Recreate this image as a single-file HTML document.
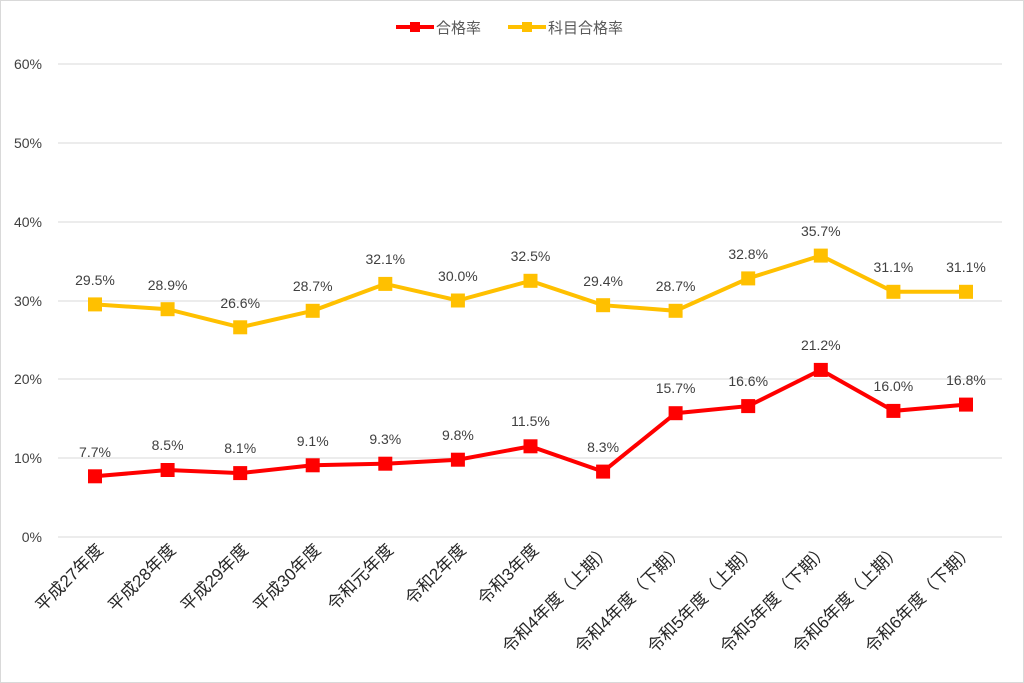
<!DOCTYPE html>
<html><head><meta charset="utf-8"><style>
body{margin:0;background:#fff}
svg{display:block;font-family:"Liberation Sans","Noto Sans CJK JP",sans-serif}
</style></head><body>
<svg width="1024" height="683" viewBox="0 0 1024 683">
<rect x="0.5" y="0.5" width="1023" height="682" fill="#fff" stroke="#d9d9d9"/>
<g stroke="#d9d9d9" stroke-width="1">
<line x1="58" x2="1002" y1="64" y2="64"/><line x1="58" x2="1002" y1="143" y2="143"/>
<line x1="58" x2="1002" y1="222" y2="222"/><line x1="58" x2="1002" y1="301" y2="301"/>
<line x1="58" x2="1002" y1="379" y2="379"/><line x1="58" x2="1002" y1="458" y2="458"/>
<line x1="58" x2="1002" y1="537" y2="537"/>
</g>
<g font-size="14" fill="#404040" text-anchor="end">
<text x="42" y="69">60%</text><text x="42" y="148">50%</text><text x="42" y="227">40%</text>
<text x="42" y="306">30%</text><text x="42" y="384">20%</text><text x="42" y="463">10%</text><text x="42" y="542">0%</text>
</g>
<g font-size="17" fill="#262626" text-anchor="end">
<text transform="translate(104,551) rotate(-45)">平成27年度</text>
<text transform="translate(176.6,551) rotate(-45)">平成28年度</text>
<text transform="translate(249.2,551) rotate(-45)">平成29年度</text>
<text transform="translate(321.7,551) rotate(-45)">平成30年度</text>
<text transform="translate(394.3,551) rotate(-45)">令和元年度</text>
<text transform="translate(466.9,551) rotate(-45)">令和2年度</text>
<text transform="translate(539.5,551) rotate(-45)">令和3年度</text>
<text transform="translate(612.1,551) rotate(-45)">令和4年度（上期）</text>
<text transform="translate(684.6,551) rotate(-45)">令和4年度（下期）</text>
<text transform="translate(757.2,551) rotate(-45)">令和5年度（上期）</text>
<text transform="translate(829.8,551) rotate(-45)">令和5年度（下期）</text>
<text transform="translate(902.4,551) rotate(-45)">令和6年度（上期）</text>
<text transform="translate(975,551) rotate(-45)">令和6年度（下期）</text>
</g>
<polyline fill="none" stroke="#ffc000" stroke-width="4" points="95,304.4 167.6,309.2 240.2,327.3 312.7,310.8 385.3,283.9 457.9,300.5 530.5,280.8 603.1,305.2 675.6,310.8 748.2,278.4 820.8,255.6 893.4,291.8 966,291.8"/>
<g fill="#ffc000">
<rect x="88" y="297.4" width="14" height="14"/><rect x="160.6" y="302.2" width="14" height="14"/><rect x="233.2" y="320.3" width="14" height="14"/><rect x="305.7" y="303.8" width="14" height="14"/><rect x="378.3" y="276.9" width="14" height="14"/><rect x="450.9" y="293.5" width="14" height="14"/><rect x="523.5" y="273.8" width="14" height="14"/><rect x="596.1" y="298.2" width="14" height="14"/><rect x="668.6" y="303.8" width="14" height="14"/><rect x="741.2" y="271.4" width="14" height="14"/><rect x="813.8" y="248.6" width="14" height="14"/><rect x="886.4" y="284.8" width="14" height="14"/><rect x="959" y="284.8" width="14" height="14"/>
</g>
<polyline fill="none" stroke="#ff0000" stroke-width="4" points="95,476.3 167.6,470 240.2,473.1 312.7,465.3 385.3,463.7 457.9,459.7 530.5,446.3 603.1,471.6 675.6,413.2 748.2,406.1 820.8,369.9 893.4,410.9 966,404.6"/>
<g fill="#ff0000">
<rect x="88" y="469.3" width="14" height="14"/><rect x="160.6" y="463" width="14" height="14"/><rect x="233.2" y="466.1" width="14" height="14"/><rect x="305.7" y="458.3" width="14" height="14"/><rect x="378.3" y="456.7" width="14" height="14"/><rect x="450.9" y="452.7" width="14" height="14"/><rect x="523.5" y="439.3" width="14" height="14"/><rect x="596.1" y="464.6" width="14" height="14"/><rect x="668.6" y="406.2" width="14" height="14"/><rect x="741.2" y="399.1" width="14" height="14"/><rect x="813.8" y="362.9" width="14" height="14"/><rect x="886.4" y="403.9" width="14" height="14"/><rect x="959" y="397.6" width="14" height="14"/>
</g>
<g font-size="14" fill="#404040" text-anchor="middle">
<text x="95" y="285">29.5%</text><text x="167.6" y="290">28.9%</text><text x="240.2" y="308">26.6%</text><text x="312.7" y="291">28.7%</text><text x="385.3" y="264">32.1%</text><text x="457.9" y="281">30.0%</text><text x="530.5" y="261">32.5%</text><text x="603.1" y="286">29.4%</text><text x="675.6" y="291">28.7%</text><text x="748.2" y="259">32.8%</text><text x="820.8" y="236">35.7%</text><text x="893.4" y="272">31.1%</text><text x="966" y="272">31.1%</text>
<text x="95" y="457">7.7%</text><text x="167.6" y="450">8.5%</text><text x="240.2" y="453">8.1%</text><text x="312.7" y="446">9.1%</text><text x="385.3" y="444">9.3%</text><text x="457.9" y="440">9.8%</text><text x="530.5" y="426">11.5%</text><text x="603.1" y="452">8.3%</text><text x="675.6" y="393">15.7%</text><text x="748.2" y="386">16.6%</text><text x="820.8" y="350">21.2%</text><text x="893.4" y="391">16.0%</text><text x="966" y="385">16.8%</text>
</g>
<line x1="396" x2="434" y1="27" y2="27" stroke="#ff0000" stroke-width="4"/>
<rect x="410" y="22" width="10" height="10" fill="#ff0000"/>
<text x="436" y="33" font-size="15" fill="#595959">合格率</text>
<line x1="508" x2="546" y1="27" y2="27" stroke="#ffc000" stroke-width="4"/>
<rect x="522" y="22" width="10" height="10" fill="#ffc000"/>
<text x="548" y="33" font-size="15" fill="#595959">科目合格率</text>
</svg>
</body></html>
